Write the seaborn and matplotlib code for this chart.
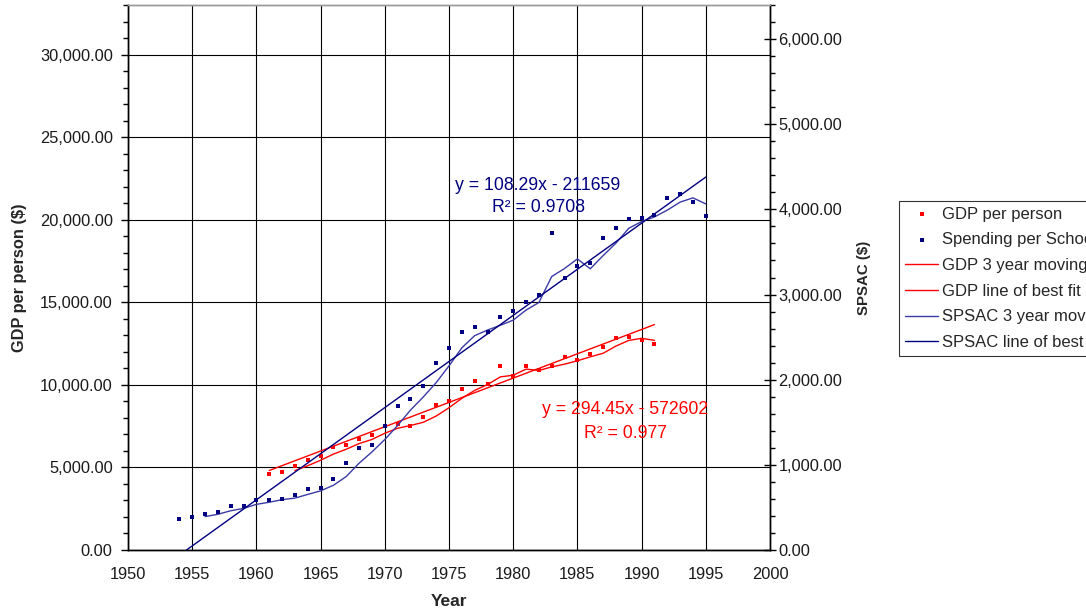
import numpy as np
import pandas as pd
import matplotlib
matplotlib.use("Agg")
import matplotlib.pyplot as plt
import seaborn as sns
from matplotlib.ticker import MultipleLocator, FuncFormatter

# Data
years_spsac = list(range(1954, 1996))
spsac = [362, 386, 428, 444, 511, 511, 586, 586, 601, 641,
         716, 727, 837, 1026, 1195, 1235, 1462, 1690, 1777, 1926,
         2193, 2367, 2563, 2622, 2563, 2732, 2803, 2917, 2999, 3718,
         3200, 3337, 3369, 3664, 3777, 3892, 3903, 3939, 4131, 4186,
         4088, 3919]

years_gdp = list(range(1961, 1992))
gdp = [4587, 4726, 5112, 5474, 5716, 6235, 6356, 6742, 6983, 7485,
       7646, 7485, 8070, 8780, 8994, 9778, 10220, 10060, 11166, 10522,
       11166, 10925, 11166, 11669, 11529, 11891, 12313, 12838, 12917, 12694,
       12476]

# trendline coefficients shown on the chart
gdp_slope, gdp_icpt, gdp_r2 = 294.45, -572602, 0.977
sp_slope, sp_icpt, sp_r2 = 108.29, -211659, 0.9708

df_sp = pd.DataFrame({"Year": years_spsac, "SPSAC": spsac})
df_gdp = pd.DataFrame({"Year": years_gdp, "GDP": gdp})
df_sp["MA"] = df_sp["SPSAC"].rolling(3).mean()
df_gdp["MA"] = df_gdp["GDP"].rolling(3).mean()
df_sp["Fit"] = sp_slope * df_sp["Year"] + sp_icpt
df_gdp["Fit"] = gdp_slope * df_gdp["Year"] + gdp_icpt

sns.set_theme(style="white")
plt.rcParams["font.family"] = ["Liberation Sans", "DejaVu Sans"]
plt.rcParams["font.size"] = 12

RED = "#FF0000"
NAVY = "#000080"
BLUE_MA = "#3a3aa6"
TICK_FS = 11.8

W, H = 1086, 611
fig = plt.figure(figsize=(W / 100, H / 100), dpi=100)
ax = fig.add_axes([128 / W, 1 - 550 / H, (770 - 128) / W, (550 - 5) / H])
ax2 = ax.twinx()

# GDP on left axis
sns.lineplot(data=df_gdp, x="Year", y="MA", ax=ax, color=RED, lw=1.0,
             label="GDP 3 year moving average", legend=False)
sns.lineplot(data=df_gdp, x="Year", y="Fit", ax=ax, color=RED, lw=1.0,
             label="GDP line of best fit", legend=False)
sns.scatterplot(data=df_gdp, x="Year", y="GDP", ax=ax, color=RED, marker="s",
                s=12, linewidth=0, label="GDP per person", legend=False, zorder=5)

# SPSAC on right axis
sns.lineplot(data=df_sp, x="Year", y="MA", ax=ax2, color=BLUE_MA, lw=1.0,
             label="SPSAC 3 year moving average", legend=False)
sns.lineplot(data=df_sp, x="Year", y="Fit", ax=ax2, color=NAVY, lw=1.0,
             label="SPSAC line of best fit", legend=False)
sns.scatterplot(data=df_sp, x="Year", y="SPSAC", ax=ax2, color=NAVY, marker="s",
                s=12, linewidth=0, label="Spending per School Age Child", legend=False, zorder=5)

ax.set_xlim(1950, 2000)
ax.set_ylim(0, 33000)
ax2.set_ylim(0, 6400)

ax.xaxis.set_major_locator(MultipleLocator(5))
ax.xaxis.set_minor_locator(MultipleLocator(1))
ax.yaxis.set_major_locator(MultipleLocator(5000))
ax.yaxis.set_minor_locator(MultipleLocator(1000))
ax2.yaxis.set_major_locator(MultipleLocator(1000))
ax2.yaxis.set_minor_locator(MultipleLocator(200))
fmt = FuncFormatter(lambda v, p: f"{v:,.2f}")
ax.yaxis.set_major_formatter(fmt)
ax2.yaxis.set_major_formatter(fmt)

ax.grid(True, which="major", axis="both", color="black", lw=0.8)
ax.set_axisbelow(True)

for a in (ax, ax2):
    a.tick_params(which="major", direction="out", length=5, width=1, color="black",
                  labelsize=TICK_FS, labelcolor="#1a1a1a")
    a.tick_params(which="minor", direction="out", length=3.5, width=1, color="black")
    for s in a.spines.values():
        s.set_color("black")
        s.set_linewidth(1)
    a.spines["top"].set_color("#999999")
ax2.tick_params(axis="y", which="major", direction="inout", length=8, pad=2)
ax.tick_params(axis="x", which="major", direction="inout", length=6, pad=9)
ax.tick_params(axis="y", which="major", pad=6)

ax.set_xlabel("Year", fontweight="bold", fontsize=12.5)
ax.set_ylabel("GDP per person ($)", fontweight="bold", fontsize=11.8)
ax2.set_ylabel("SPSAC ($)", fontweight="bold", fontsize=10.8)
ax.xaxis.set_label_coords(0.5, (550 - 601) / 545, transform=ax.transAxes)
ax.yaxis.set_label_coords((20 - 128) / 642, 0.5)
ax2.yaxis.set_label_coords((864 - 128) / 642, 0.5)
ax.xaxis.label.set_va("center")
ax.yaxis.label.set_va("center")
ax2.yaxis.label.set_va("center")

# trendline equations
EQ_FS = 12.7
fig.text(538 / W, 1 - 185 / H, f"y = {sp_slope}x - {-sp_icpt}", color=NAVY,
         ha="center", va="center", fontsize=EQ_FS)
fig.text(538 / W, 1 - 207 / H, f"R² = {sp_r2}", color=NAVY,
         ha="center", va="center", fontsize=EQ_FS)
fig.text(625 / W, 1 - 410 / H, f"y = {gdp_slope}x - {-gdp_icpt}", color=RED,
         ha="center", va="center", fontsize=EQ_FS)
fig.text(625 / W, 1 - 433 / H, f"R² = {gdp_r2}", color=RED,
         ha="center", va="center", fontsize=EQ_FS)

h1, l1 = ax.get_legend_handles_labels()
h2, l2 = ax2.get_legend_handles_labels()
hd = dict(zip(l1 + l2, h1 + h2))
order = ["GDP per person", "Spending per School Age Child",
         "GDP 3 year moving average", "GDP line of best fit",
         "SPSAC 3 year moving average", "SPSAC line of best fit"]
leg = fig.legend([hd[k] for k in order], order, loc="upper left",
                 bbox_to_anchor=(899 / W, 1 - 201 / H), frameon=True,
                 fancybox=False, edgecolor="black", fontsize=12,
                 handlelength=2.0, handletextpad=0.25, labelspacing=0.64,
                 borderaxespad=0, borderpad=0.35, markerscale=1.0)
leg.get_frame().set_linewidth(0.8)

fig.savefig("out.png", dpi=100)
